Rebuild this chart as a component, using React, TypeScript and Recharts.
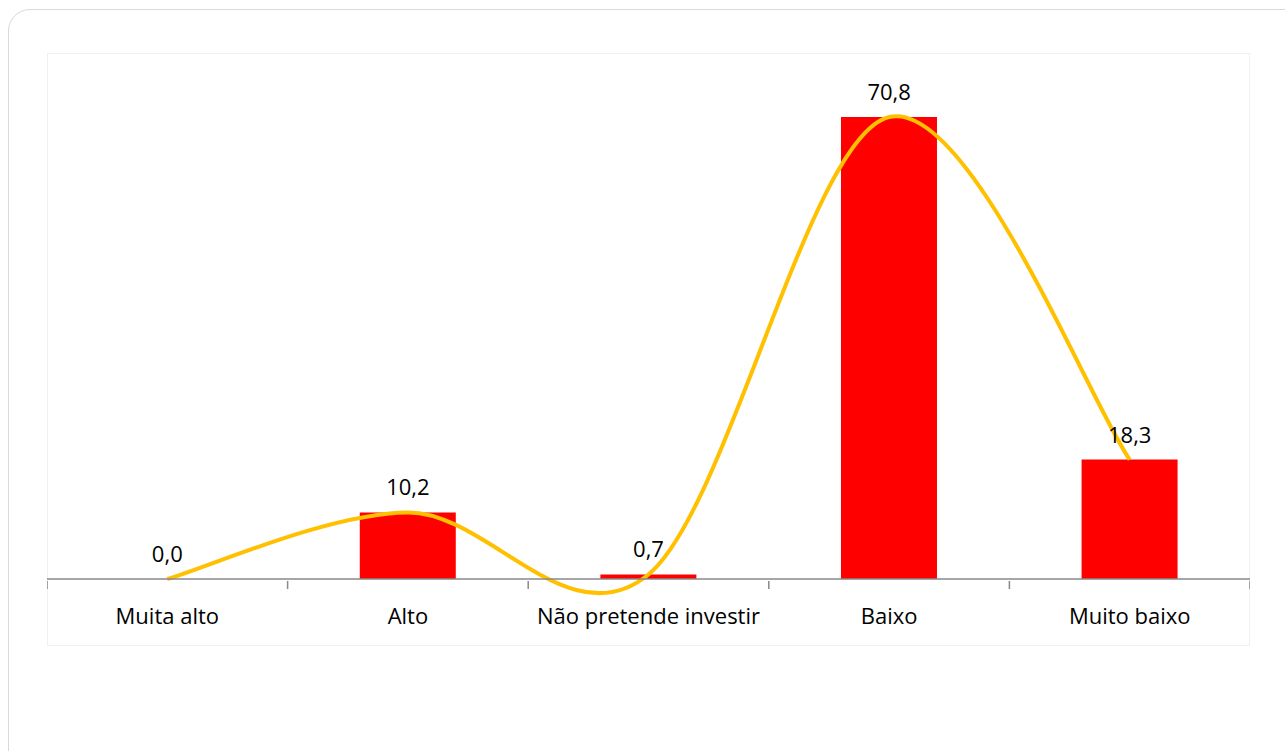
import React from "react";
import {
  ComposedChart,
  Bar,
  Line,
  XAxis,
  YAxis,
  LabelList,
} from "recharts";

const categories = [
  "Muita alto",
  "Alto",
  "Não pretende investir",
  "Baixo",
  "Muito baixo",
];
const values = [0.0, 10.2, 0.7, 70.8, 18.3];

const data = categories.map((name, i) => ({ name, value: values[i] }));

// Excel style smoothed line (Catmull-Rom as cubic Bezier)
function smoothCurve(context: any) {
  let pts: [number, number][] = [];
  return {
    areaStart() {},
    areaEnd() {},
    lineStart() {
      pts = [];
    },
    lineEnd() {
      if (!pts.length) return;
      context.moveTo(pts[0][0], pts[0][1]);
      for (let i = 0; i < pts.length - 1; i++) {
        const p0 = pts[i - 1] || pts[i];
        const p1 = pts[i];
        const p2 = pts[i + 1];
        const p3 = pts[i + 2] || p2;
        context.bezierCurveTo(
          p1[0] + (p2[0] - p0[0]) / 6,
          p1[1] + (p2[1] - p0[1]) / 6,
          p2[0] - (p3[0] - p1[0]) / 6,
          p2[1] - (p3[1] - p1[1]) / 6,
          p2[0],
          p2[1]
        );
      }
    },
    point(x: number, y: number) {
      pts.push([+x, +y]);
    },
  };
}

const fmt = (v: any) => Number(v).toFixed(1).replace(".", ",");
const font = "'Open Sans', Lato, sans-serif";

// category label plus tick marks on the category boundaries (Excel style)
function CatTick(props: any) {
  const { x, y, payload, index } = props;
  const half = payload.offset || 0;
  const last = index === categories.length - 1;
  return (
    <g>
      <line x1={x - half} x2={x - half} y1={y} y2={y + 8} stroke="#898989" strokeWidth={1.5} />
      {last && (
        <line x1={x + half} x2={x + half} y1={y} y2={y + 8} stroke="#898989" strokeWidth={1.5} />
      )}
      <text
        x={x}
        y={y + 37}
        textAnchor="middle"
        dominantBaseline="middle"
        fill="#000"
        fontSize={22}
        fontFamily={font}
      >
        {payload.value}
      </text>
    </g>
  );
}

export default function App() {
  return (
    <div
      style={{
        position: "fixed",
        left: 0,
        top: 0,
        width: 1285,
        height: 751,
        overflow: "hidden",
        background: "#fff",
        fontFamily: font,
      }}
    >
      <div
        style={{
          position: "absolute",
          left: 8,
          top: 9,
          width: 1320,
          height: 800,
          border: "1.5px solid #d9d9d9",
          borderRadius: 22,
        }}
      />
      <div
        style={{
          position: "absolute",
          left: 47,
          top: 53,
          width: 1203,
          height: 593,
          border: "1px solid #f0f0f0",
          boxSizing: "border-box",
        }}
      />
      <div style={{ position: "absolute", left: 47, top: 53 }}>
        <ComposedChart
          width={1203}
          height={593}
          data={data}
          margin={{ top: 4, right: 0, bottom: 0, left: 0 }}
          barCategoryGap="30%"
        >
          <XAxis
            dataKey="name"
            height={67}
            axisLine={{ stroke: "#898989", strokeWidth: 1.5 }}
            tickLine={false}
            tickSize={0}
            interval={0}
            tick={<CatTick />}
          />
          <YAxis hide domain={[0, 80]} />
          <Bar dataKey="value" fill="#ff0000" isAnimationActive={false} />
          <Line
            dataKey="value"
            type={smoothCurve as any}
            stroke="#ffc000"
            strokeWidth={4}
            dot={false}
            activeDot={false}
            isAnimationActive={false}
          >
            <LabelList
              dataKey="value"
              position="top"
              offset={17}
              formatter={fmt}
              style={{ fill: "#000", fontSize: 22, fontFamily: font }}
            />
          </Line>
        </ComposedChart>
      </div>
    </div>
  );
}
